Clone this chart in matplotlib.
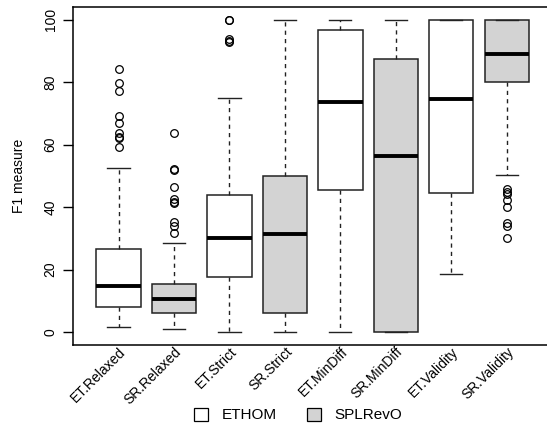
import matplotlib
matplotlib.use("Agg")
import matplotlib.pyplot as plt
from matplotlib.patches import Patch

plt.rcParams['font.family'] = ['Liberation Sans', 'DejaVu Sans']

# groups, in drawing order
labels = ["ET.Relaxed", "SR.Relaxed", "ET.Strict", "SR.Strict",
          "ET.MinDiff", "SR.MinDiff", "ET.Validity", "SR.Validity"]
tools = ["ETHOM", "SPLRevO", "ETHOM", "SPLRevO",
         "ETHOM", "SPLRevO", "ETHOM", "SPLRevO"]

# box statistics
whislo = [1.7, 1.0, 0.0, 0.0, 0.0, 0.0, 18.5, 50.2]
q1 = [8.1, 6.0, 17.7, 6.0, 45.4, 0.0, 44.4, 80.2]
med = [14.7, 10.6, 30.1, 31.3, 73.7, 56.5, 74.5, 89.0]
q3 = [26.5, 15.4, 43.8, 50.0, 96.8, 87.5, 100.0, 100.0]
whishi = [52.4, 28.6, 75.0, 100.0, 100.0, 100.0, 100.0, 100.0]
fliers = [
    [84.1, 79.7, 77.1, 69.2, 66.8, 63.9, 62.5, 62.0, 59.3],
    [63.9, 52.1, 52.0, 46.3, 42.5, 41.6, 41.3, 35.3, 33.9, 31.6],
    [100.0, 100.0, 93.7, 92.8, 93.2],
    [],
    [],
    [],
    [],
    [45.9, 44.9, 44.2, 42.3, 40.1, 34.8, 33.9, 30.2],
]

colors = {"ETHOM": "white", "SPLRevO": "#d3d3d3"}

stats = []
for i in range(len(labels)):
    stats.append(dict(label=labels[i], whislo=whislo[i], q1=q1[i], med=med[i],
                      q3=q3[i], whishi=whishi[i], fliers=fliers[i]))

fig = plt.figure(figsize=(5.47, 4.28), dpi=100)
ax = fig.add_axes([0.1335, 0.195, 0.876, 0.788])

pos = list(range(1, len(labels) + 1))
bp = ax.bxp(stats, positions=pos, widths=0.8, capwidths=0.4, patch_artist=True,
            boxprops=dict(edgecolor="#222222", linewidth=1.1),
            medianprops=dict(color="black", linewidth=2.8, solid_capstyle="butt"),
            whiskerprops=dict(color="#222222", linewidth=1.0, linestyle=(0, (3, 3))),
            capprops=dict(color="#222222", linewidth=1.0),
            flierprops=dict(marker="o", markerfacecolor="none", markeredgecolor="black",
                            markersize=5.5, markeredgewidth=0.9))
for patch, t in zip(bp["boxes"], tools):
    patch.set_facecolor(colors[t])

ax.set_xlim(0.18, 8.82)
ax.set_ylim(-4, 104)
ax.set_yticks([0, 20, 40, 60, 80, 100])
ax.tick_params(axis="y", length=7, width=1.0, pad=4, labelsize=10, labelrotation=90)
for lab in ax.get_yticklabels():
    lab.set_va("center")
ax.set_xticks(pos)
ax.set_xticklabels(labels, rotation=45, ha="right", rotation_mode="anchor", fontsize=10)
ax.tick_params(axis="x", length=0, pad=0)
for s in ax.spines.values():
    s.set_linewidth(1.1)
ax.set_ylabel("F1 measure", fontsize=10, labelpad=13)

handles = [Patch(facecolor=colors[k], edgecolor="black", linewidth=0.9) for k in ["ETHOM", "SPLRevO"]]
fig.legend(handles, ["ETHOM", "SPLRevO"], loc="center", bbox_to_anchor=(0.545, 0.03),
           ncol=2, frameon=False, fontsize=11, handlelength=0.9, handleheight=0.9,
           columnspacing=2.0, handletextpad=0.9)

fig.savefig("out.png", dpi=100)
